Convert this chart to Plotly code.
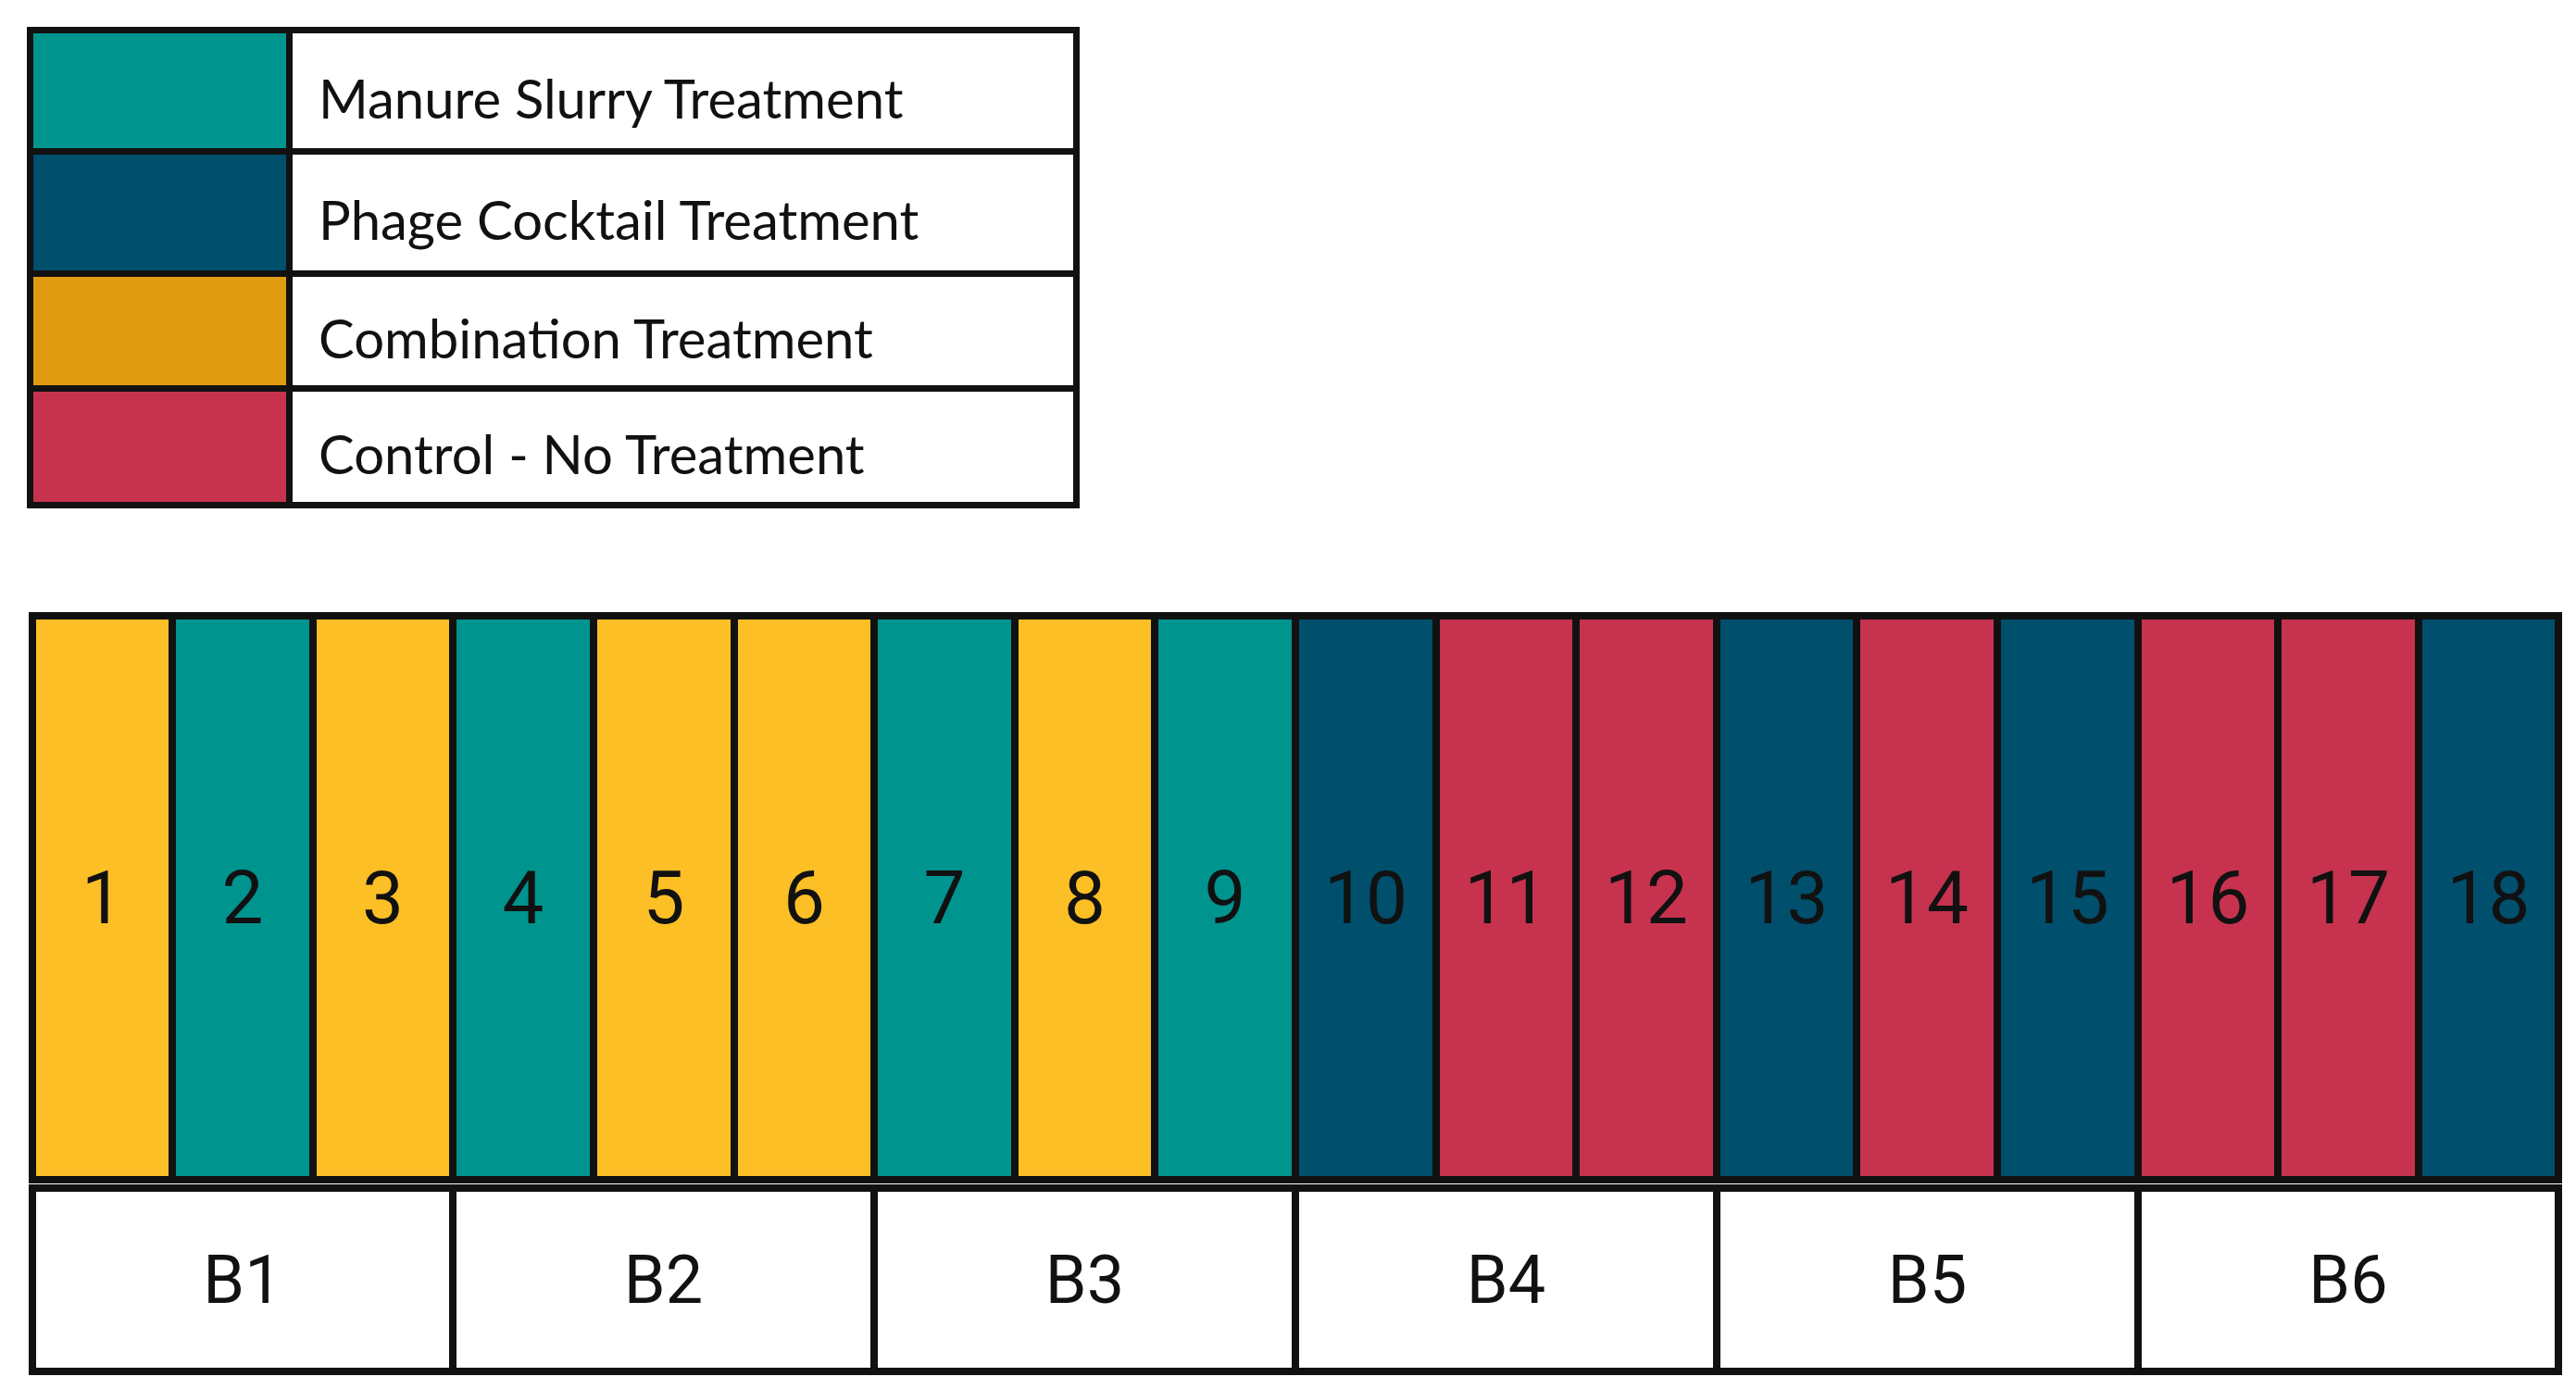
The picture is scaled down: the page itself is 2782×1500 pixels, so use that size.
import plotly.graph_objects as go

plots = [str(i) for i in range(1, 19)]
treat = ["C", "M", "C", "M", "C", "C", "M", "C", "M", "P", "N", "N", "P", "N", "P", "N", "N", "P"]
blocks = ["B1", "B2", "B3", "B4", "B5", "B6"]
legend_keys = ["M", "P", "C", "N"]
legend_labels = ["Manure Slurry Treatment", "Phage Cocktail Treatment", "Combination Treatment", "Control - No Treatment"]

plot_col = {"M": "#00948F", "P": "#004F6D", "C": "#FDBF26", "N": "#C7334F"}
leg_col = {"M": "#00948F", "P": "#004F6D", "C": "#E09B10", "N": "#C7334F"}

x0, pw = 15, (1553 - 15) / 18
fig = go.Figure()
fig.add_trace(go.Bar(
    x=[x0 + (i + 0.5) * pw for i in range(len(plots))], y=[343] * len(plots), base=370, width=pw,
    marker=dict(color=[plot_col[t] for t in treat], line=dict(color="#111", width=8)),
    text=plots, textposition="inside", insidetextanchor="middle", textangle=0,
    textfont=dict(family="Roboto", size=80, color="#111"), constraintext="none"))
bw = pw * 3
fig.add_trace(go.Bar(
    x=[x0 + (i + 0.5) * bw for i in range(len(blocks))], y=[112] * len(blocks), base=718, width=bw,
    marker=dict(color="white", line=dict(color="#111", width=8)),
    text=blocks, textposition="inside", insidetextanchor="middle", textangle=0,
    textfont=dict(family="Roboto", size=72, color="#111"), constraintext="none"))
rows = [(14, 88), (88, 162), (162, 232), (232, 303)]
fig.add_trace(go.Bar(
    x=[93] * 4, y=[b - a for a, b in rows], base=[a for a, b in rows], width=158,
    marker=dict(color=[leg_col[k] for k in legend_keys], line=dict(color="#111", width=7))))
fig.add_trace(go.Bar(
    x=[411.5] * 4, y=[b - a for a, b in rows], base=[a for a, b in rows], width=479,
    marker=dict(color="white", line=dict(color="#111", width=7))))
for (a, b), lab in zip(rows, legend_labels):
    fig.add_annotation(x=188, y=(a + b) / 2 + 4, text=lab, showarrow=False, xanchor="left",
                       font=dict(family="Lato", size=58, color="#111"))
fig.update_layout(width=2782, height=1500, margin=dict(l=0, r=0, t=0, b=0),
                  plot_bgcolor="white", paper_bgcolor="white", showlegend=False,
                  barmode="overlay", bargap=0,
                  xaxis=dict(range=[0, 1568], visible=False),
                  yaxis=dict(range=[845, 0], visible=False))
fig.write_html("out.html")
